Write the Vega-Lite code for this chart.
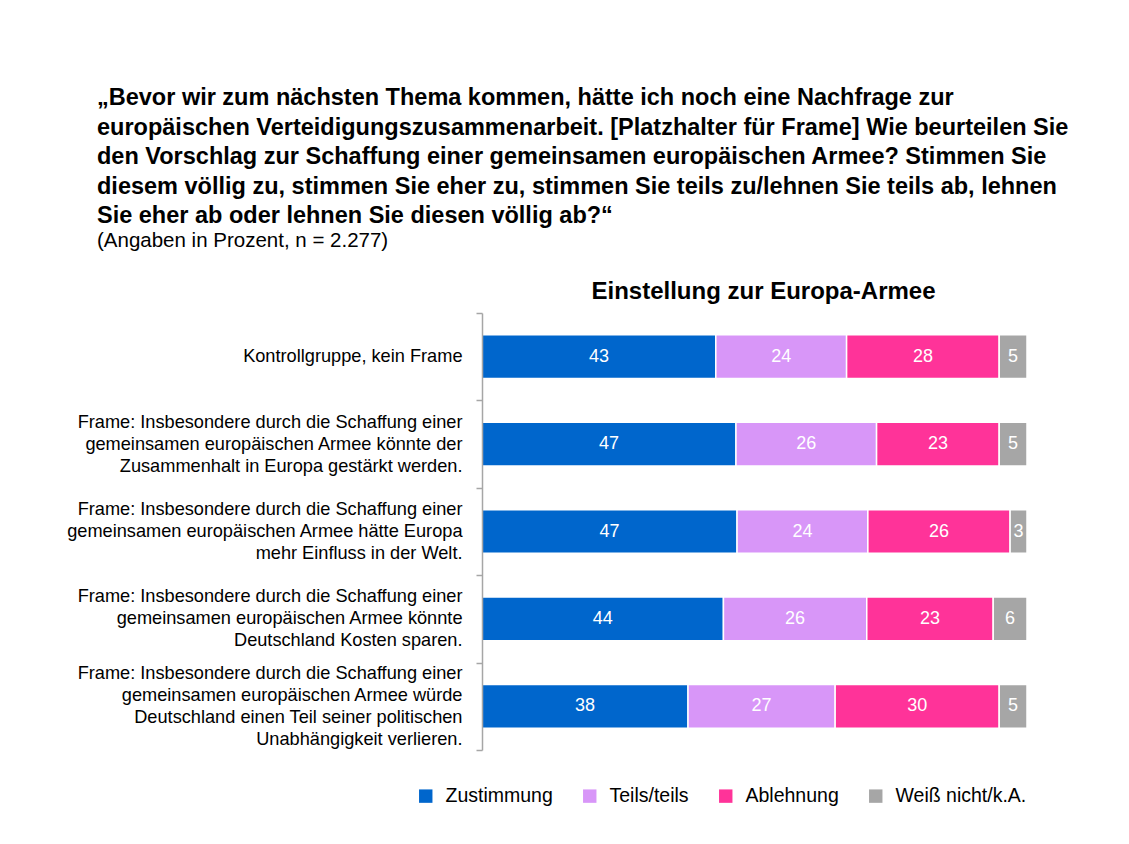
{
  "$schema": "https://vega.github.io/schema/vega-lite/v6.json",
  "width": 545,
  "height": 437,
  "autosize": {"type": "none"},
  "padding": {"left": 482, "top": 313, "right": 102, "bottom": 94},
  "background": "white",
  "config": {
    "font": "Liberation Sans",
    "view": {"stroke": null}
  },
  "title": {
    "text": [
      "„Bevor wir zum nächsten Thema kommen, hätte ich noch eine Nachfrage zur",
      "europäischen Verteidigungszusammenarbeit. [Platzhalter für Frame] Wie beurteilen Sie",
      "den Vorschlag zur Schaffung einer gemeinsamen europäischen Armee? Stimmen Sie",
      "diesem völlig zu, stimmen Sie eher zu, stimmen Sie teils zu/lehnen Sie teils ab, lehnen",
      "Sie eher ab oder lehnen Sie diesen völlig ab?“"
    ],
    "subtitle": ["(Angaben in Prozent, n = 2.277)"],
    "anchor": "start",
    "frame": "group",
    "dx": -385,
    "offset": 28,
    "font": "Liberation Sans",
    "fontSize": 23.5,
    "fontWeight": "bold",
    "lineHeight": 29.5,
    "color": "black",
    "subtitleFont": "Liberation Sans",
    "subtitleFontSize": 20.5,
    "subtitleFontWeight": "normal",
    "subtitleColor": "black",
    "subtitlePadding": 3
  },
  "data": {
    "values": [
      {"frame": "Kontrollgruppe, kein Frame", "cat": "Zustimmung", "k": 1, "value": 42.9},
      {"frame": "Kontrollgruppe, kein Frame", "cat": "Teils/teils", "k": 2, "value": 24.0},
      {"frame": "Kontrollgruppe, kein Frame", "cat": "Ablehnung", "k": 3, "value": 28.0},
      {"frame": "Kontrollgruppe, kein Frame", "cat": "Weiß nicht/k.A.", "k": 4, "value": 5.1},
      {"frame": "Frame: Insbesondere durch die Schaffung einer|gemeinsamen europäischen Armee könnte der|Zusammenhalt in Europa gestärkt werden.", "cat": "Zustimmung", "k": 1, "value": 46.6},
      {"frame": "Frame: Insbesondere durch die Schaffung einer|gemeinsamen europäischen Armee könnte der|Zusammenhalt in Europa gestärkt werden.", "cat": "Teils/teils", "k": 2, "value": 25.8},
      {"frame": "Frame: Insbesondere durch die Schaffung einer|gemeinsamen europäischen Armee könnte der|Zusammenhalt in Europa gestärkt werden.", "cat": "Ablehnung", "k": 3, "value": 22.5},
      {"frame": "Frame: Insbesondere durch die Schaffung einer|gemeinsamen europäischen Armee könnte der|Zusammenhalt in Europa gestärkt werden.", "cat": "Weiß nicht/k.A.", "k": 4, "value": 5.1},
      {"frame": "Frame: Insbesondere durch die Schaffung einer|gemeinsamen europäischen Armee hätte Europa|mehr Einfluss in der Welt.", "cat": "Zustimmung", "k": 1, "value": 46.8},
      {"frame": "Frame: Insbesondere durch die Schaffung einer|gemeinsamen europäischen Armee hätte Europa|mehr Einfluss in der Welt.", "cat": "Teils/teils", "k": 2, "value": 24.0},
      {"frame": "Frame: Insbesondere durch die Schaffung einer|gemeinsamen europäischen Armee hätte Europa|mehr Einfluss in der Welt.", "cat": "Ablehnung", "k": 3, "value": 26.1},
      {"frame": "Frame: Insbesondere durch die Schaffung einer|gemeinsamen europäischen Armee hätte Europa|mehr Einfluss in der Welt.", "cat": "Weiß nicht/k.A.", "k": 4, "value": 3.1},
      {"frame": "Frame: Insbesondere durch die Schaffung einer|gemeinsamen europäischen Armee könnte|Deutschland Kosten sparen.", "cat": "Zustimmung", "k": 1, "value": 44.3},
      {"frame": "Frame: Insbesondere durch die Schaffung einer|gemeinsamen europäischen Armee könnte|Deutschland Kosten sparen.", "cat": "Teils/teils", "k": 2, "value": 26.3},
      {"frame": "Frame: Insbesondere durch die Schaffung einer|gemeinsamen europäischen Armee könnte|Deutschland Kosten sparen.", "cat": "Ablehnung", "k": 3, "value": 23.2},
      {"frame": "Frame: Insbesondere durch die Schaffung einer|gemeinsamen europäischen Armee könnte|Deutschland Kosten sparen.", "cat": "Weiß nicht/k.A.", "k": 4, "value": 6.2},
      {"frame": "Frame: Insbesondere durch die Schaffung einer|gemeinsamen europäischen Armee würde|Deutschland einen Teil seiner politischen|Unabhängigkeit verlieren.", "cat": "Zustimmung", "k": 1, "value": 37.8},
      {"frame": "Frame: Insbesondere durch die Schaffung einer|gemeinsamen europäischen Armee würde|Deutschland einen Teil seiner politischen|Unabhängigkeit verlieren.", "cat": "Teils/teils", "k": 2, "value": 27.0},
      {"frame": "Frame: Insbesondere durch die Schaffung einer|gemeinsamen europäischen Armee würde|Deutschland einen Teil seiner politischen|Unabhängigkeit verlieren.", "cat": "Ablehnung", "k": 3, "value": 30.1},
      {"frame": "Frame: Insbesondere durch die Schaffung einer|gemeinsamen europäischen Armee würde|Deutschland einen Teil seiner politischen|Unabhängigkeit verlieren.", "cat": "Weiß nicht/k.A.", "k": 4, "value": 5.1}
    ]
  },
  "encoding": {
    "y": {
      "field": "frame",
      "type": "nominal",
      "sort": null,
      "scale": {"paddingInner": 0, "paddingOuter": 0},
      "axis": {
        "title": null,
        "zindex": 1,
        "labelExpr": "isValid(datum.value) ? split(datum.value, '|') : ''",
        "labelFont": "Liberation Sans",
        "labelFontSize": 18.2,
        "labelLineHeight": 22,
        "labelColor": "black",
        "labelAlign": "right",
        "labelBaseline": "middle",
        "labelPadding": 14,
        "labelLimit": 0,
        "labelOffset": {
          "condition": [
            {"test": "isValid(datum.value) && indexof(datum.value, 'Unabh') >= 0", "value": -33},
            {"test": "isValid(datum.value) && indexof(datum.value, 'Frame:') >= 0", "value": -22}
          ],
          "value": 0
        },
        "tickBand": "extent",
        "tickSize": 6,
        "tickColor": "#A6A6A6",
        "tickWidth": 1.5,
        "domainColor": "#A6A6A6",
        "domainWidth": 1.5
      }
    }
  },
  "layer": [
    {
      "mark": {"type": "bar", "stroke": "white", "strokeWidth": 1.5, "height": {"band": 0.5}},
      "encoding": {
        "x": {
          "field": "value",
          "type": "quantitative",
          "stack": "zero",
          "scale": {"domain": [0, 100], "nice": false},
          "axis": {
            "orient": "top",
            "title": "Einstellung zur Europa-Armee",
            "titleFont": "Liberation Sans",
            "titleFontSize": 24,
            "titleFontWeight": "bold",
            "titleColor": "black",
            "titlePadding": 10,
            "titleX": 281,
            "labels": false,
            "ticks": false,
            "domain": false,
            "grid": false
          }
        },
        "order": {"field": "k", "type": "quantitative"},
        "color": {
          "field": "cat",
          "type": "nominal",
          "scale": {
            "domain": ["Zustimmung", "Teils/teils", "Ablehnung", "Weiß nicht/k.A."],
            "range": ["#0066CC", "#D896F8", "#FF3399", "#A6A6A6"]
          },
          "legend": {
            "orient": "none",
            "legendX": -66,
            "legendY": 473,
            "direction": "horizontal",
            "title": null,
            "symbolType": "square",
            "symbolSize": 180,
            "symbolStrokeWidth": 0,
            "labelFont": "Liberation Sans",
            "labelFontSize": 19.5,
            "labelColor": "black",
            "labelOffset": 10,
            "columnPadding": 27,
            "labelLimit": 0
          }
        }
      }
    },
    {
      "mark": {"type": "text", "color": "white", "fontSize": 18, "font": "Liberation Sans"},
      "encoding": {
        "x": {"field": "value", "type": "quantitative", "stack": "zero", "bandPosition": 0.5},
        "order": {"field": "k", "type": "quantitative"},
        "detail": {"field": "cat"},
        "text": {"field": "value", "type": "quantitative", "format": ".0f"}
      }
    }
  ]
}
